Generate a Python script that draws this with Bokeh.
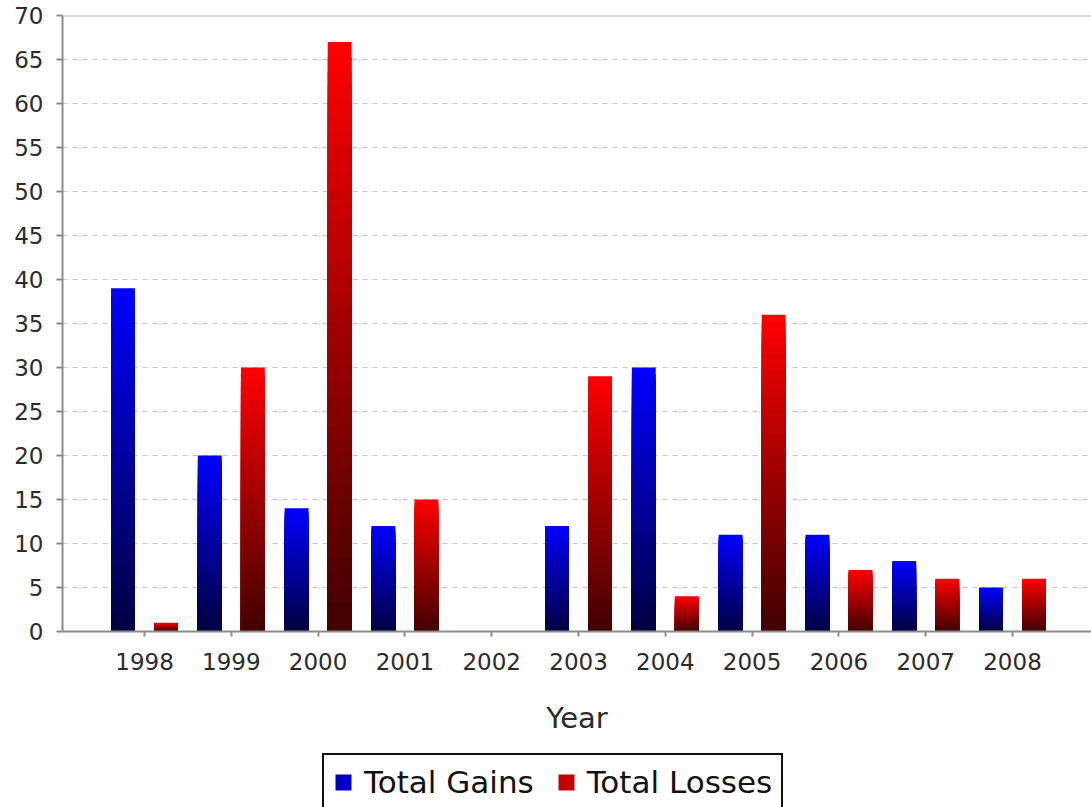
from bokeh.plotting import figure
from bokeh.layouts import column
from bokeh.models import Range1d, FixedTicker, Span, Legend, LegendItem, ColumnDataSource
from bokeh.embed import file_html
from bokeh.resources import INLINE

# ---- data ----
years = ["1998", "1999", "2000", "2001", "2002", "2003", "2004", "2005", "2006", "2007", "2008"]
total_gains = [39, 20, 14, 12, 0, 12, 30, 11, 11, 8, 5]
total_losses = [1, 30, 67, 15, 0, 29, 4, 36, 7, 6, 6]
series_names = ["Total Gains", "Total Losses"]
y_ticks = list(range(0, 71, 5))

# ---- styles ----
FONT = "DejaVu Sans"
N_STEPS = 40
BAR_W = 0.275
OFFSET = 0.248

p = figure(width=1091, height=745, output_backend="svg", toolbar_location=None,
           x_range=Range1d(-0.945, 10.91), y_range=Range1d(0, 70),
           min_border_left=62, min_border_top=15, min_border_right=0, min_border_bottom=114)
p.outline_line_color = None
p.background_fill_color = "white"
p.border_fill_color = "white"


def gradient_source(values, offset, top_rgb, bottom_rgb):
    xs, bottoms, tops, colors = [], [], [], []
    # draw from tallest (brightest) to shortest (darkest) for a seamless gradient
    for k in range(N_STEPS - 1, -1, -1):
        t = (k + 0.5) / N_STEPS
        r = round(bottom_rgb[0] + (top_rgb[0] - bottom_rgb[0]) * t)
        g = round(bottom_rgb[1] + (top_rgb[1] - bottom_rgb[1]) * t)
        b = round(bottom_rgb[2] + (top_rgb[2] - bottom_rgb[2]) * t)
        col = "#%02x%02x%02x" % (r, g, b)
        for i, v in enumerate(values):
            if v <= 0:
                continue
            xs.append(i + offset)
            bottoms.append(0)
            tops.append(v * (k + 1) / N_STEPS)
            colors.append(col)
    return ColumnDataSource(dict(x=xs, bottom=bottoms, top=tops, color=colors))


src_g = gradient_source(total_gains, -OFFSET, (0, 0, 255), (0, 0, 64))
src_l = gradient_source(total_losses, OFFSET, (255, 0, 0), (64, 0, 0))

p.vbar(x="x", bottom="bottom", top="top", width=BAR_W, fill_color="color",
       line_color=None, source=src_g)
p.vbar(x="x", bottom="bottom", top="top", width=BAR_W, fill_color="color",
       line_color=None, source=src_l)

# gridlines
p.xgrid.visible = False
p.ygrid.ticker = FixedTicker(ticks=y_ticks)
p.ygrid.grid_line_color = "#c8c8c8"
p.ygrid.grid_line_dash = "5 5"
p.ygrid.grid_line_width = 1

# top outline
p.add_layout(Span(location=70, dimension="width", line_color="#b4b4b4", line_width=2))

# y axis
ya = p.yaxis[0]
ya.ticker = FixedTicker(ticks=y_ticks)
ya.major_tick_out = 6
ya.major_tick_in = 0
ya.minor_tick_out = 0
ya.minor_tick_in = 0
ya.axis_line_color = "#8c8c8c"
ya.axis_line_width = 2
ya.major_tick_line_color = "#8c8c8c"
ya.major_tick_line_width = 2
ya.major_label_standoff = 13
ya.major_label_text_font = FONT
ya.major_label_text_font_size = "23px"
ya.major_label_text_color = "#2b2b2b"

# x axis
xa = p.xaxis[0]
xa.ticker = FixedTicker(ticks=list(range(len(years))))
xa.major_label_overrides = {i: y for i, y in enumerate(years)}
xa.major_tick_out = 5
xa.major_tick_in = 0
xa.minor_tick_out = 0
xa.minor_tick_in = 0
xa.axis_line_color = "#8c8c8c"
xa.axis_line_width = 2
xa.major_tick_line_color = "#8c8c8c"
xa.major_tick_line_width = 2
xa.major_label_standoff = 16
xa.major_label_text_font = FONT
xa.major_label_text_font_size = "23px"
xa.major_label_text_color = "#2b2b2b"
xa.axis_label = "Year"
xa.axis_label_text_font = FONT
xa.axis_label_text_font_size = "29px"
xa.axis_label_text_font_style = "normal"
xa.axis_label_text_color = "#2b2b2b"
xa.axis_label_standoff = 28

# legend strip below the chart
pl = figure(width=1091, height=62, output_backend="svg", toolbar_location=None,
            x_range=Range1d(0, 1), y_range=Range1d(0, 1), min_border=0,
            x_axis_location=None, y_axis_location=None)
pl.outline_line_color = None
pl.grid.visible = False
pl.background_fill_color = "white"
pl.border_fill_color = "white"
# swatch renderers (no drawable data; only used for the legend swatches)
nan = float("nan")
lg_g = pl.vbar(x=[nan], top=[nan], width=0.1, fill_color="#0000c4", line_color=None)
lg_l = pl.vbar(x=[nan], top=[nan], width=0.1, fill_color="#c40000", line_color=None)

legend = Legend(items=[
    LegendItem(label=series_names[0], renderers=[lg_g]),
    LegendItem(label=series_names[1], renderers=[lg_l]),
], location=(260, -4), orientation="horizontal",
    border_line_color="#111111", border_line_width=2, border_line_alpha=1.0,
    background_fill_color="white", background_fill_alpha=1.0,
    padding=9, margin=0, glyph_width=20, glyph_height=20,
    label_standoff=11, spacing=22,
    label_text_font=FONT, label_text_font_size="31px", label_text_color="#111111")
pl.add_layout(legend, "center")

open("out.html", "w").write(file_html(column(p, pl, spacing=0), INLINE))
